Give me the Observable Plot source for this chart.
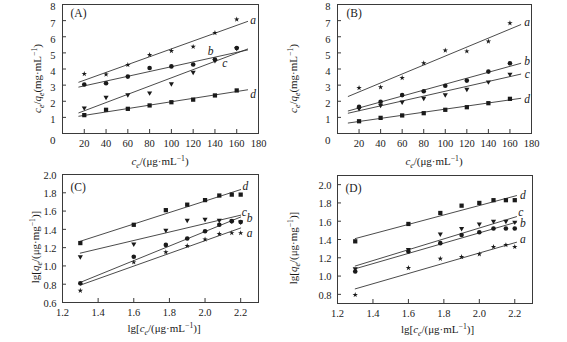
<!DOCTYPE html>
<html><head><meta charset="utf-8">
<script src="https://cdn.jsdelivr.net/npm/d3@7"></script>
<script src="https://cdn.jsdelivr.net/npm/@observablehq/plot@0.6"></script>
<style>
html,body{margin:0;padding:0;background:#fff;}
#wrap{position:relative;width:567px;height:342px;overflow:hidden;background:#fff;}
.panel{position:absolute;}
.panel svg{display:block;}
</style></head><body><div id="wrap"></div>
<script>
// ---------- data ----------
const seriesNames = ["a", "b", "c", "d"];

// (A) and (B): c_e (µg/mL)
const xLin = [20, 40, 60, 80, 100, 120, 140, 160];
const A_a = [3.70, 3.66, 4.26, 4.88, 5.12, 5.38, 6.24, 7.08];
const A_b = [3.04, 3.12, 3.53, 4.06, 4.16, 4.28, 4.59, 5.30];
const A_c = [1.59, 2.25, 2.40, 2.52, 3.08, 3.80, 4.53, 5.28];
const A_d = [1.14, 1.47, 1.53, 1.74, 1.94, 2.10, 2.36, 2.67];
const fitA_x = [15, 170];
const fitA_a = [3.18, 6.95];
const fitA_b = [2.88, 5.18];
const fitA_c = [1.28, 5.24];
const fitA_d = [1.07, 2.71];
const labA_x = [175, 136, 149, 175];
const labA_y = [7.0, 5.1, 4.38, 2.42];

const B_a = [2.83, 2.87, 3.45, 4.36, 5.15, 5.10, 5.71, 6.84];
const B_b = [1.65, 1.97, 2.38, 2.62, 2.96, 3.28, 3.84, 4.36];
const B_c = [1.55, 1.75, 1.95, 2.18, 2.40, 2.74, 3.20, 3.68];
const B_d = [0.76, 0.97, 1.12, 1.26, 1.47, 1.63, 1.88, 2.15];
const fitB_x = [10, 170];
const fitB_a = [2.30, 6.75];
const fitB_b = [1.40, 4.35];
const fitB_c = [1.26, 3.68];
const fitB_d = [0.65, 2.18];
const labB_x = [176, 176, 176, 176];
const labB_y = [6.9, 4.5, 3.65, 2.15];

// (C) and (D): lg c_e
const xLg = [1.30, 1.60, 1.78, 1.90, 2.00, 2.08, 2.15, 2.20];
const C_a = [0.73, 1.04, 1.15, 1.22, 1.29, 1.35, 1.36, 1.36];
const C_b = [0.81, 1.10, 1.23, 1.30, 1.38, 1.45, 1.49, 1.48];
const C_c = [1.10, 1.24, 1.39, 1.50, 1.51, 1.50, 1.49, 1.48];
const C_d = [1.25, 1.45, 1.61, 1.67, 1.72, 1.77, 1.78, 1.78];
const fitC_x = [1.30, 2.20];
const fitC_a = [0.79, 1.415];
const fitC_b = [0.82, 1.535];
const fitC_c = [1.14, 1.555];
const fitC_d = [1.27, 1.835];
const labC_x = [2.25, 2.25, 2.22, 2.227];
const labC_y = [1.355, 1.52, 1.585, 1.87];

const D_a = [0.795, 1.09, 1.19, 1.21, 1.24, 1.32, 1.34, 1.32];
const D_b = [1.05, 1.27, 1.36, 1.45, 1.48, 1.52, 1.52, 1.52];
const D_c = [1.08, 1.29, 1.46, 1.52, 1.57, 1.60, 1.60, 1.59];
const D_d = [1.38, 1.57, 1.69, 1.77, 1.80, 1.83, 1.83, 1.83];
const fitD_x = [1.30, 2.21];
const fitD_a = [0.86, 1.37];
const fitD_b = [1.08, 1.59];
const fitD_c = [1.11, 1.65];
const fitD_d = [1.41, 1.88];
const labD_x = [2.245, 2.245, 2.234, 2.245];
const labD_y = [1.40, 1.58, 1.70, 1.88];

// tick values
const ticksLinX = [20, 40, 60, 80, 100, 120, 140, 160, 180];
const ticksLinY = [1, 2, 3, 4, 5, 6, 7, 8];
const ticksLgX = [1.2, 1.4, 1.6, 1.8, 2.0, 2.2];
const ticksC_Y = [0.6, 0.8, 1.0, 1.2, 1.4, 1.6, 1.8, 2.0];
const ticksD_Y = [0.8, 1.0, 1.2, 1.4, 1.6, 1.8, 2.0];

// ---------- drawing ----------
const FONT = "'Liberation Serif', 'Times New Roman', serif";
const INK = "#1a1a1a";
const triDown = {
  draw(ctx, size) {
    const s3 = Math.sqrt(3);
    const y = -Math.sqrt(size / (3 * s3));
    ctx.moveTo(0, -2 * y);
    ctx.lineTo(s3 * y, y);
    ctx.lineTo(-s3 * y, y);
    ctx.closePath();
  }
};
const symbols = ["star", "circle", triDown, "square"];
const symR = [1.7, 2.3, 1.9, 2.4];

const wrap = document.getElementById("wrap");

function richText(g, parts, fs) {
  let shift = 0;
  parts.forEach(p => {
    const t = g.append("tspan").text(p.t);
    if (p.i) t.attr("font-style", "italic");
    let target = 0;
    if (p.sub) target = 2.5;
    if (p.sup) target = -4;
    if (p.sub || p.sup) t.attr("font-size", fs * 0.7);
    if (target !== shift) { t.attr("dy", target - shift); shift = target; }
  });
}

function panel(cfg) {
  const innerW = cfg.w - cfg.ml - cfg.mr;
  const innerH = cfg.h - cfg.mt - cfg.mb;
  const marks = [];
  // fit lines
  seriesNames.forEach((s, i) => {
    const rows = cfg.fitX.map((x, j) => ({x, y: cfg.fits[i][j]}));
    marks.push(Plot.line(rows, {x: "x", y: "y", stroke: "#2a2a2a", strokeWidth: 0.85}));
  });
  // points
  seriesNames.forEach((s, i) => {
    const rows = cfg.xs.map((x, j) => ({x, y: cfg.series[i][j]}));
    marks.push(Plot.dot(rows, {x: "x", y: "y", symbol: symbols[i], r: symR[i], fill: INK, stroke: "none"}));
  });
  // series labels
  marks.push(Plot.text(seriesNames, {
    x: (d, i) => cfg.labX[i], y: (d, i) => cfg.labY[i], text: d => d,
    fontStyle: "italic", fontSize: 11.5, fill: INK, textAnchor: "middle"
  }));
  // frame + inward ticks
  marks.push(Plot.frame({stroke: "#3a3a3a", strokeWidth: 1}));
  marks.push(Plot.tickY(cfg.yTicks, {y: d => d, insetRight: innerW - 4, stroke: "#3a3a3a"}));
  marks.push(Plot.tickX(cfg.xTicks, {x: d => d, insetTop: innerH - 4, stroke: "#3a3a3a"}));
  // axes labels
  marks.push(Plot.axisX(cfg.xTicks, {tickSize: 0, tickPadding: cfg.xPad, tickFormat: cfg.fmt, label: null, fill: "#222"}));
  marks.push(Plot.axisY(cfg.yTicks, {tickSize: 0, tickPadding: cfg.yPad, tickFormat: cfg.fmt, label: null, fill: "#222", dy: cfg.yLabDy}));
  if (cfg.corner0) {
    marks.push(Plot.text(["0"], {x: () => cfg.xDomain[0], y: () => cfg.yDomain[0], text: d => d,
      dx: -cfg.yPad, dy: 7, textAnchor: "end", fill: "#222", fontSize: 11}));
  }
  // panel tag
  marks.push(Plot.text([cfg.tag], {frameAnchor: "top-left", text: d => d, dx: cfg.tagDx, dy: cfg.tagDy,
    textAnchor: "start", lineAnchor: "top", fontSize: 11.5, fill: INK}));

  const svg = Plot.plot({
    width: cfg.w, height: cfg.h,
    marginLeft: cfg.ml, marginRight: cfg.mr, marginTop: cfg.mt, marginBottom: cfg.mb,
    x: {domain: cfg.xDomain, axis: null},
    y: {domain: cfg.yDomain, axis: null},
    style: {fontFamily: FONT, fontSize: "10.5px", background: "white", color: INK, overflow: "visible"},
    marks
  });
  const div = document.createElement("div");
  div.className = "panel";
  div.style.left = cfg.left + "px";
  div.style.top = cfg.top + "px";
  div.appendChild(svg);
  wrap.appendChild(div);

  const s = d3.select(svg);
  const fs = 11;
  // x title
  const xt = s.append("text")
    .attr("x", cfg.ml + innerW / 2 + cfg.xTitleDx)
    .attr("y", cfg.mt + innerH + cfg.xTitleOff)
    .attr("text-anchor", "middle")
    .attr("font-family", FONT).attr("font-size", fs).attr("fill", INK);
  richText(xt, cfg.xTitle, fs);
  // y title
  const cy = cfg.mt + innerH / 2 + cfg.yTitleDy;
  const yt = s.append("text")
    .attr("transform", `translate(${cfg.yTitleX},${cy}) rotate(-90)`)
    .attr("text-anchor", "middle")
    .attr("font-family", FONT).attr("font-size", fs).attr("fill", INK);
  richText(yt, cfg.yTitle, fs);
}

const titleLinX = [{t: "c", i: 1}, {t: "e", i: 1, sub: 1}, {t: "/(μg·mL"}, {t: "−1", sup: 1}, {t: ")"}];
const titleLinY = [{t: "c", i: 1}, {t: "e", i: 1, sub: 1}, {t: "/"}, {t: "q", i: 1}, {t: "e", i: 1, sub: 1}, {t: "(mg·mL"}, {t: "−1", sup: 1}, {t: ")"}];
const titleLgX = [{t: "lg["}, {t: "c", i: 1}, {t: "e", i: 1, sub: 1}, {t: "/(μg·mL"}, {t: "−1", sup: 1}, {t: ")]"}];
const titleLgY = [{t: "lg["}, {t: "q", i: 1}, {t: "e", i: 1, sub: 1}, {t: "/(μg·mg"}, {t: "−1", sup: 1}, {t: ")]"}];

const fmtInt = d => String(d);
const fmt1 = d => d.toFixed(1);

panel({left: 0, top: 0, w: 283, h: 171, ml: 62, mr: 25, mt: 4, mb: 38,
  xDomain: [0, 180], yDomain: [0, 8], xTicks: ticksLinX, yTicks: ticksLinY, fmt: fmtInt,
  xPad: 6, yPad: 7, yLabDy: 2.5, corner0: true,
  xs: xLin, series: [A_a, A_b, A_c, A_d], fitX: fitA_x, fits: [fitA_a, fitA_b, fitA_c, fitA_d],
  labX: labA_x, labY: labA_y, tag: "(A)", tagDx: 8, tagDy: 4,
  xTitle: titleLinX, yTitle: titleLinY, xTitleDx: 0, xTitleOff: 32, yTitleX: 41, yTitleDy: 10});

panel({left: 283, top: 0, w: 284, h: 171, ml: 54, mr: 36, mt: 4, mb: 38,
  xDomain: [0, 180], yDomain: [0, 8], xTicks: ticksLinX, yTicks: ticksLinY, fmt: fmtInt,
  xPad: 6, yPad: 7, yLabDy: 2.5, corner0: true,
  xs: xLin, series: [B_a, B_b, B_c, B_d], fitX: fitB_x, fits: [fitB_a, fitB_b, fitB_c, fitB_d],
  labX: labB_x, labY: labB_y, tag: "(B)", tagDx: 9, tagDy: 4,
  xTitle: titleLinX, yTitle: titleLinY, xTitleDx: 0, xTitleOff: 32, yTitleX: 14, yTitleDy: 10});

panel({left: 0, top: 171, w: 283, h: 171, ml: 62, mr: 25, mt: 3, mb: 40,
  xDomain: [1.2, 2.3], yDomain: [0.6, 2.0], xTicks: ticksLgX, yTicks: ticksC_Y, fmt: fmt1,
  xPad: 6, yPad: 6, yLabDy: 1, corner0: false,
  xs: xLg, series: [C_a, C_b, C_c, C_d], fitX: fitC_x, fits: [fitC_a, fitC_b, fitC_c, fitC_d],
  labX: labC_x, labY: labC_y, tag: "(C)", tagDx: 8, tagDy: 8,
  xTitle: titleLgX, yTitle: titleLgY, xTitleDx: 4, xTitleOff: 30, yTitleX: 39, yTitleDy: 9});

panel({left: 283, top: 171, w: 284, h: 171, ml: 54, mr: 35, mt: 4, mb: 39,
  xDomain: [1.2, 2.3], yDomain: [0.7, 2.1], xTicks: ticksLgX, yTicks: ticksD_Y, fmt: fmt1,
  xPad: 6, yPad: 6, yLabDy: 1, corner0: false,
  xs: xLg, series: [D_a, D_b, D_c, D_d], fitX: fitD_x, fits: [fitD_a, fitD_b, fitD_c, fitD_d],
  labX: labD_x, labY: labD_y, tag: "(D)", tagDx: 8, tagDy: 8,
  xTitle: titleLgX, yTitle: titleLgY, xTitleDx: 3, xTitleOff: 30, yTitleX: 14, yTitleDy: 9});
</script>
</body></html>
